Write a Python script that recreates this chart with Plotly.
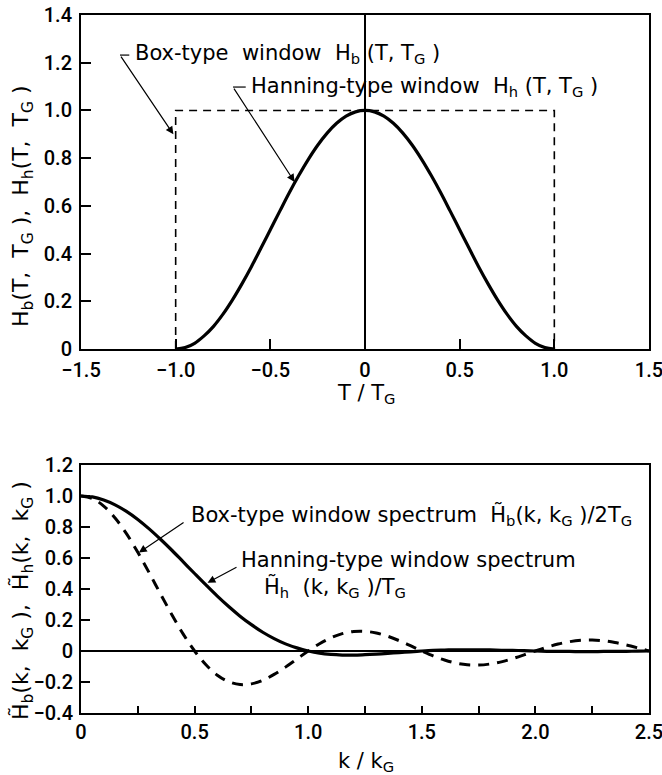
import plotly.graph_objects as go

# ---------------- data ----------------
T_box = [-1.0, -1.0, 1.0, 1.0]
H_box = [0.0, 1.0, 1.0, 0.0]

T_han = [-1.00, -0.95, -0.90, -0.85, -0.80, -0.75, -0.70, -0.65, -0.60, -0.55,
         -0.50, -0.45, -0.40, -0.35, -0.30, -0.25, -0.20, -0.15, -0.10, -0.05,
         0.00, 0.05, 0.10, 0.15, 0.20, 0.25, 0.30, 0.35, 0.40, 0.45,
         0.50, 0.55, 0.60, 0.65, 0.70, 0.75, 0.80, 0.85, 0.90, 0.95, 1.00]
H_han = [0.000, 0.006, 0.024, 0.055, 0.095, 0.146, 0.206, 0.273, 0.345, 0.422,
         0.500, 0.578, 0.655, 0.727, 0.794, 0.854, 0.905, 0.946, 0.976, 0.994,
         1.000, 0.994, 0.976, 0.946, 0.905, 0.854, 0.794, 0.727, 0.655, 0.578,
         0.500, 0.422, 0.345, 0.273, 0.206, 0.146, 0.095, 0.055, 0.024, 0.006, 0.000]

k_vals = [0.00, 0.05, 0.10, 0.15, 0.20, 0.25, 0.30, 0.35, 0.40, 0.45,
          0.50, 0.55, 0.60, 0.65, 0.70, 0.75, 0.80, 0.85, 0.90, 0.95,
          1.00, 1.05, 1.10, 1.15, 1.20, 1.25, 1.30, 1.35, 1.40, 1.45,
          1.50, 1.55, 1.60, 1.65, 1.70, 1.75, 1.80, 1.85, 1.90, 1.95,
          2.00, 2.05, 2.10, 2.15, 2.20, 2.25, 2.30, 2.35, 2.40, 2.45, 2.50]
S_box = [1.000, 0.984, 0.935, 0.858, 0.757, 0.637, 0.505, 0.368, 0.234, 0.109,
         0.000, -0.089, -0.156, -0.198, -0.216, -0.212, -0.189, -0.151, -0.104, -0.052,
         0.000, 0.047, 0.085, 0.112, 0.126, 0.127, 0.116, 0.095, 0.067, 0.034,
         0.000, -0.032, -0.058, -0.078, -0.089, -0.091, -0.084, -0.070, -0.049, -0.025,
         0.000, 0.024, 0.045, 0.060, 0.069, 0.071, 0.066, 0.055, 0.039, 0.020, 0.000]
S_han = [1.000, 0.994, 0.974, 0.943, 0.901, 0.849, 0.788, 0.721, 0.650, 0.575,
         0.500, 0.426, 0.354, 0.287, 0.225, 0.170, 0.121, 0.080, 0.046, 0.020,
         0.000, -0.014, -0.022, -0.026, -0.027, -0.024, -0.020, -0.015, -0.010, -0.005,
         0.000, 0.004, 0.006, 0.008, 0.008, 0.008, 0.007, 0.005, 0.004, 0.002,
         0.000, -0.002, -0.003, -0.003, -0.004, -0.004, -0.003, -0.003, -0.002, -0.001, 0.000]

top_xticks = [-1.5, -1.0, -0.5, 0.0, 0.5, 1.0, 1.5]
top_xlabels = ["−1.5", "−1.0", "−0.5", "0", "0.5", "1.0", "1.5"]
top_yticks = [0, 0.2, 0.4, 0.6, 0.8, 1.0, 1.2, 1.4]
top_ylabels = ["0", "0.2", "0.4", "0.6", "0.8", "1.0", "1.2", "1.4"]
bot_xticks = [0, 0.25, 0.5, 0.75, 1.0, 1.25, 1.5, 1.75, 2.0, 2.25, 2.5]
bot_xlabels = ["0", "", "0.5", "", "1.0", "", "1.5", "", "2.0", "", "2.5"]
bot_yticks = [-0.4, -0.2, 0, 0.2, 0.4, 0.6, 0.8, 1.0, 1.2]
bot_ylabels = ["−0.4", "−0.2", "0", "0.2", "0.4", "0.6", "0.8", "1.0", "1.2"]

# ---------------- figure ----------------
W, H = 662, 775
TICKFONT = dict(family="Roboto, Arial", size=20, color="black", weight=500)
TXTFONT = dict(family="DejaVu Sans, Arial", size=21, color="black")

def px_x(p):
    return p / W

def px_y(p):
    return 1 - p / H

fig = go.Figure()
fig.add_trace(go.Scatter(x=T_box, y=H_box, mode="lines", xaxis="x", yaxis="y",
                         line=dict(color="black", width=1.6, dash="8px,6px"),
                         showlegend=False))
fig.add_trace(go.Scatter(x=T_han, y=H_han, mode="lines", xaxis="x", yaxis="y",
                         line=dict(color="black", width=3.2, shape="spline"),
                         showlegend=False))
fig.add_trace(go.Scatter(x=k_vals, y=S_box, mode="lines", xaxis="x2", yaxis="y2",
                         line=dict(color="black", width=3, dash="11px,8px", shape="spline"),
                         showlegend=False))
fig.add_trace(go.Scatter(x=k_vals, y=S_han, mode="lines", xaxis="x2", yaxis="y2",
                         line=dict(color="black", width=3.2, shape="spline"),
                         showlegend=False))

axis_common = dict(showgrid=False, showline=True, linecolor="black", linewidth=2,
                   mirror=True, ticks="inside", tickcolor="black", tickwidth=1.5,
                   tickfont=TICKFONT, tickmode="array", automargin=False,
                   ticklabeloverflow="allow")

fig.update_layout(
    width=W, height=H, margin=dict(l=0, r=0, t=0, b=0),
    paper_bgcolor="white", plot_bgcolor="white",
    xaxis=dict(axis_common, domain=[px_x(81), px_x(649)], range=[-1.5, 1.5],
               tickvals=top_xticks, ticktext=top_xlabels, ticklen=10,
               zeroline=True, zerolinecolor="black", zerolinewidth=1.5,
               anchor="y", ticklabelstandoff=2),
    yaxis=dict(axis_common, domain=[px_y(349), px_y(15)], range=[0, 1.4],
               tickvals=top_yticks, ticktext=top_ylabels, ticklen=10,
               zeroline=False, anchor="x", ticklabelstandoff=3),
    xaxis2=dict(axis_common, domain=[px_x(81), px_x(649)], range=[0, 2.5],
                tickvals=bot_xticks, ticktext=bot_xlabels, ticklen=7,
                zeroline=False, anchor="y2", ticklabelstandoff=0),
    yaxis2=dict(axis_common, domain=[px_y(713), px_y(465)], range=[-0.4, 1.2],
                tickvals=bot_yticks, ticktext=bot_ylabels, ticklen=9,
                zeroline=True, zerolinecolor="black", zerolinewidth=1.5,
                anchor="x2", ticklabelstandoff=2),
)

ann = []
# axis titles
ann.append(dict(text="T / T<sub>G</sub>", x=px_x(366), y=px_y(394), xref="paper", yref="paper",
                showarrow=False, font=dict(TXTFONT, size=21), xanchor="center", yanchor="middle"))
ann.append(dict(text="k / k<sub>G</sub>", x=px_x(366), y=px_y(762), xref="paper", yref="paper",
                showarrow=False, font=dict(TXTFONT, size=21), xanchor="center", yanchor="middle"))
ann.append(dict(text="H<sub>b</sub>(T,  T<sub>G</sub> ),  H<sub>h</sub>(T,  T<sub>G</sub> )",
                x=px_x(22), y=px_y(206), xref="paper", yref="paper", textangle=-90,
                showarrow=False, font=dict(TXTFONT, size=22), xanchor="center", yanchor="middle"))
ann.append(dict(text="H\u0303<sub>b</sub>(k,  k<sub>G</sub> ),  H\u0303<sub>h</sub>(k,  k<sub>G</sub> )",
                x=px_x(22), y=px_y(601), xref="paper", yref="paper", textangle=-90,
                showarrow=False, font=dict(TXTFONT, size=22), xanchor="center", yanchor="middle"))

# labels
ann.append(dict(text="Box-type  window  H<sub>b</sub> (T, T<sub>G</sub> )", x=-1.225, y=1.238,
                xref="x", yref="y", showarrow=False, xanchor="left", yanchor="middle", font=TXTFONT))
ann.append(dict(text="Hanning-type window  H<sub>h</sub> (T, T<sub>G</sub> )", x=-0.615, y=1.098,
                xref="x", yref="y", showarrow=False, xanchor="left", yanchor="middle", font=TXTFONT))
ann.append(dict(text="Box-type window spectrum  H\u0303<sub>b</sub>(k, k<sub>G</sub> )/2T<sub>G</sub>",
                x=0.475, y=0.875, xref="x2", yref="y2", showarrow=False,
                xanchor="left", yanchor="middle", font=TXTFONT))
ann.append(dict(text="Hanning-type window spectrum", x=0.695, y=0.59,
                xref="x2", yref="y2", showarrow=False, xanchor="left", yanchor="middle", font=TXTFONT))
ann.append(dict(text="H\u0303<sub>h</sub>  (k, k<sub>G</sub> )/T<sub>G</sub>", x=0.795, y=0.41,
                xref="x2", yref="y2", showarrow=False, xanchor="left", yanchor="middle", font=TXTFONT))

# arrows (text-less)
arrow_style = dict(text="", showarrow=True, arrowhead=2, arrowsize=1.3, arrowwidth=1.2,
                   arrowcolor="black", standoff=0, startstandoff=0)
ann.append(dict(arrow_style, x=-1.012, y=0.90, ax=-1.294, ay=1.232,
                xref="x", yref="y", axref="x", ayref="y"))
ann.append(dict(arrow_style, x=-0.372, y=0.70, ax=-0.697, ay=1.098,
                xref="x", yref="y", axref="x", ayref="y"))
ann.append(dict(arrow_style, x=0.255, y=0.635, ax=0.458, ay=0.835,
                xref="x2", yref="y2", axref="x2", ayref="y2"))
ann.append(dict(arrow_style, x=0.557, y=0.44, ax=0.691, ay=0.545,
                xref="x2", yref="y2", axref="x2", ayref="y2"))
fig.update_layout(annotations=ann)

# short leader dashes next to the label text
shapes = [
    dict(type="line", xref="x", yref="y", x0=-1.294, y0=1.232, x1=-1.245, y1=1.232,
         line=dict(color="black", width=1.2)),
    dict(type="line", xref="x", yref="y", x0=-0.697, y0=1.098, x1=-0.630, y1=1.098,
         line=dict(color="black", width=1.2)),
]
fig.update_layout(shapes=shapes)

fig.write_html("out.html")
